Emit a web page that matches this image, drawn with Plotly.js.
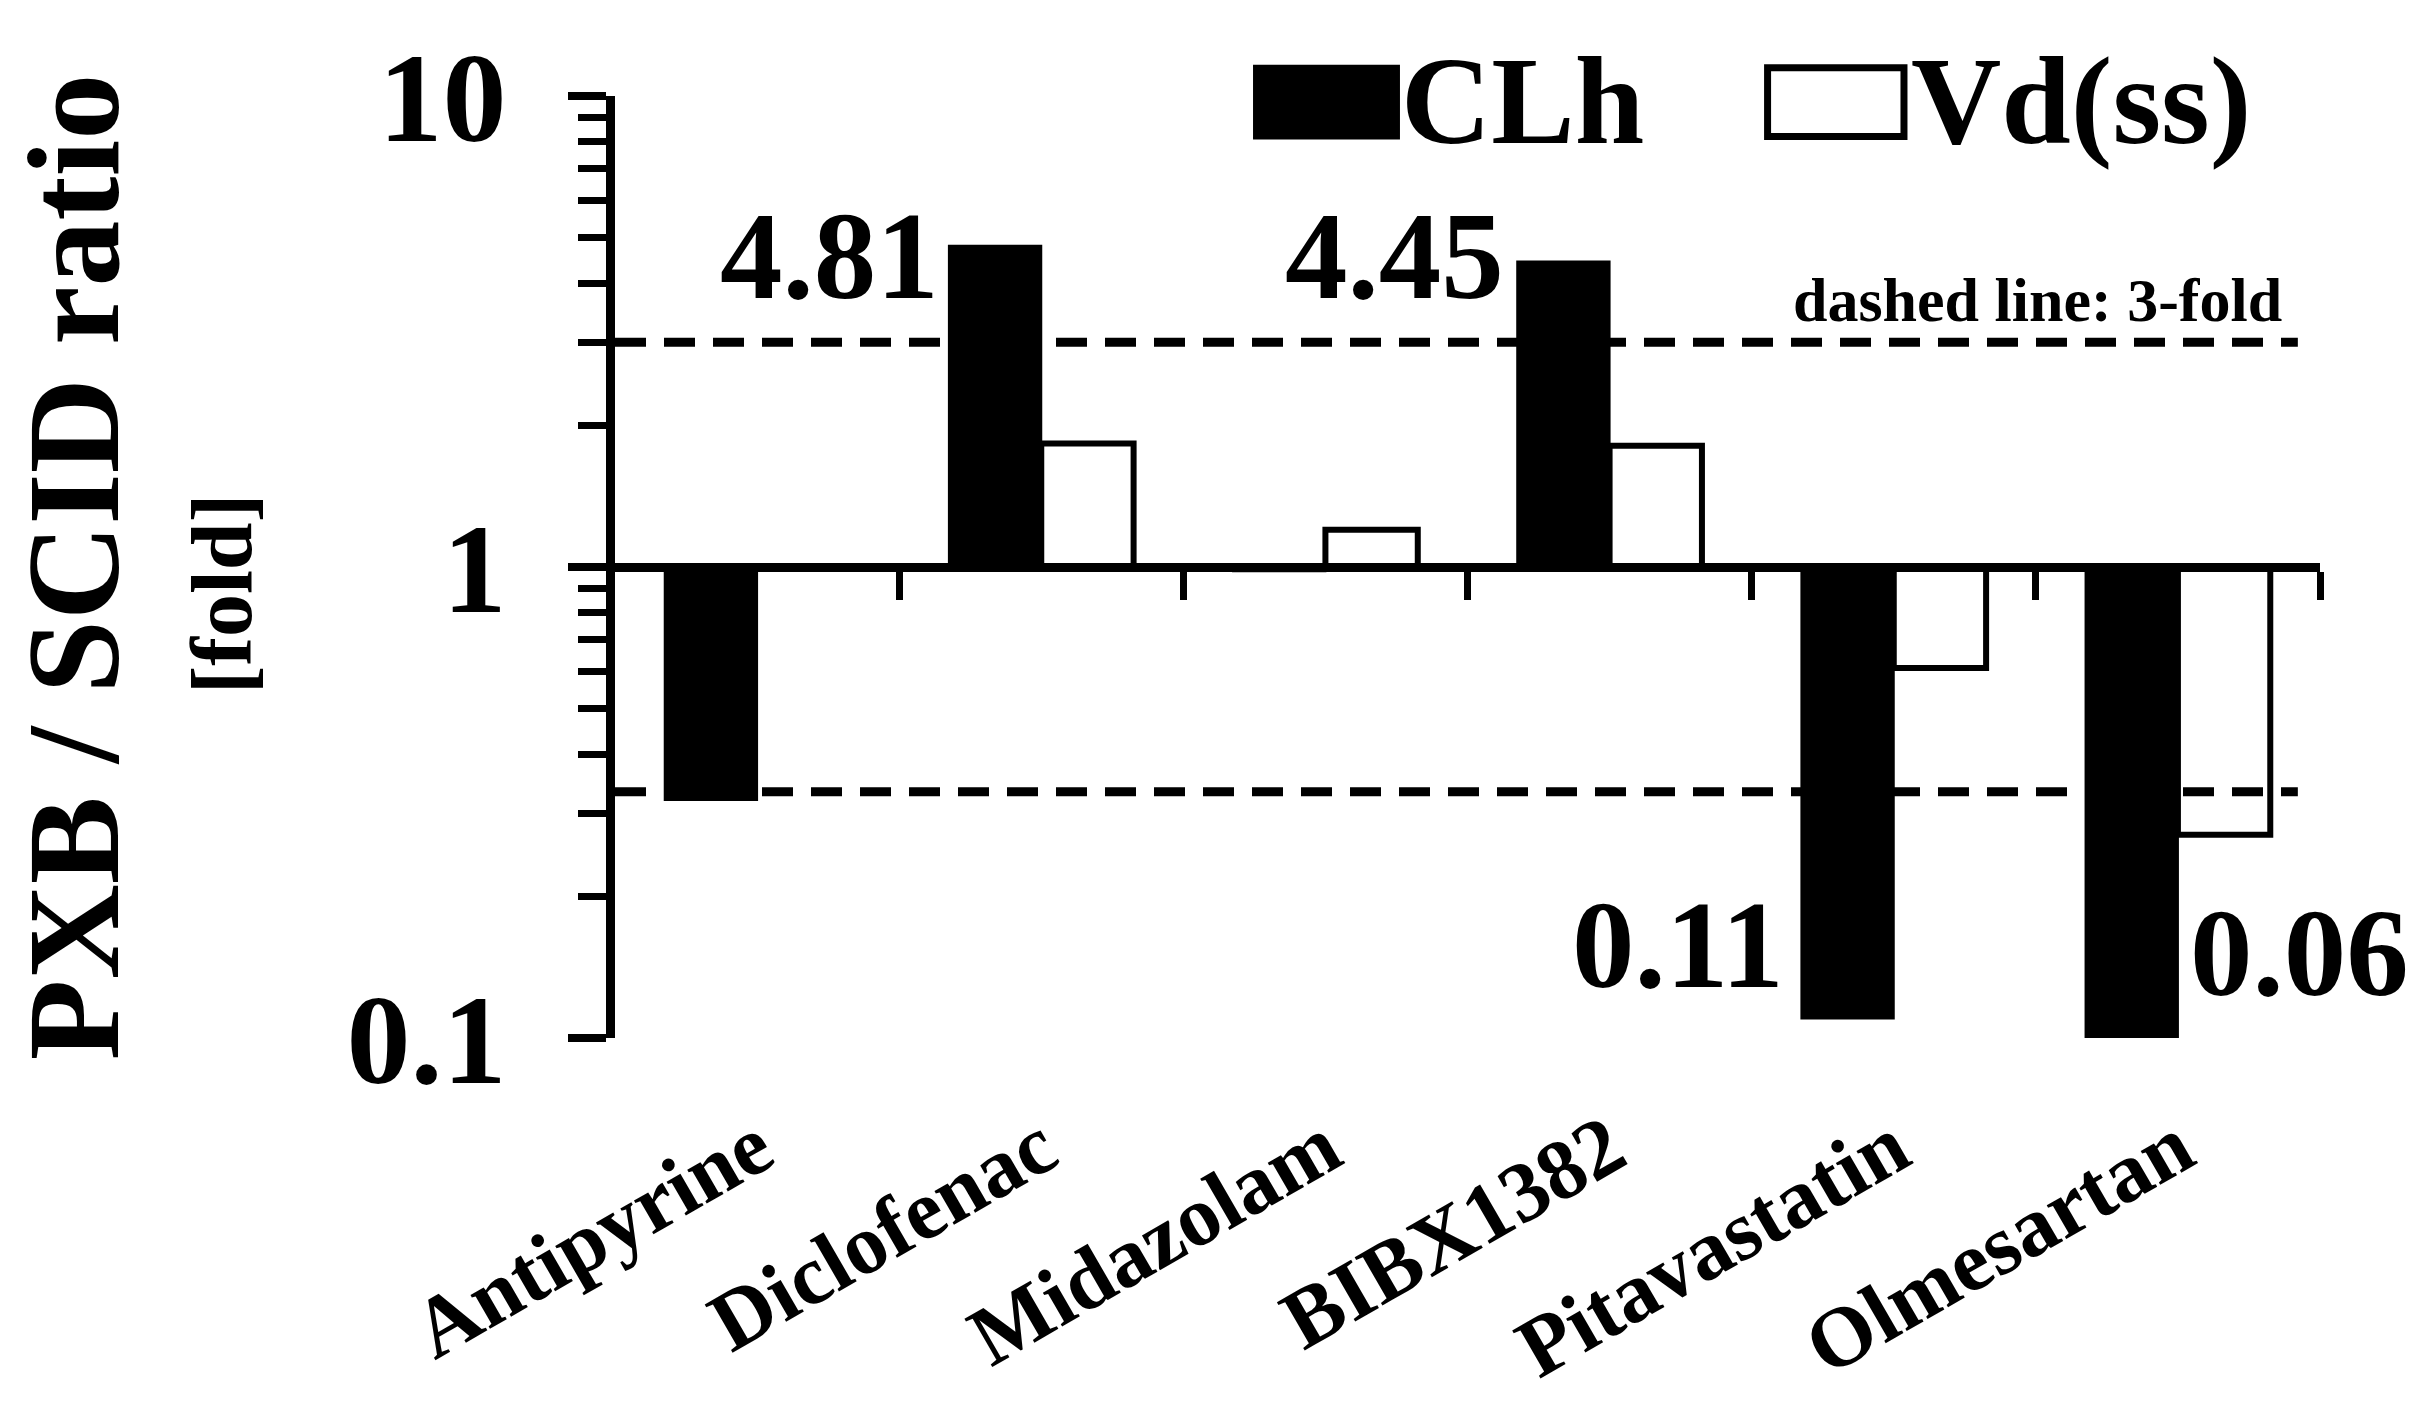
<!DOCTYPE html>
<html>
<head>
<meta charset="utf-8">
<script src="https://cdn.plot.ly/plotly-3.0.1.min.js"></script>
<style>
  html, body { margin: 0; padding: 0; background: #ffffff; }
  #chart { width: 2423px; height: 1408px; }
</style>
</head>
<body>
<div id="chart"></div>
<script>
// ---- data ----
const categories = ['Antipyrine', 'Diclofenac', 'Midazolam', 'BIBX1382', 'Pitavastatin', 'Olmesartan'];
const clhRatio  = [0.32, 4.81, 0.98, 4.45, 0.11, 0.06];   // CLh  PXB/SCID ratio
const vdssRatio = [1.00, 1.83, 1.20, 1.81, 0.61, 0.27];   // Vd(ss) PXB/SCID ratio
const seriesNames = ['CLh', 'Vd(ss)'];
const baselineRatio = 1;          // bars grow from ratio 1
const foldLimit = 3;              // dashed lines at 3-fold and 1/3-fold
const yTickVals = [0.1, 1, 10];
const yTickText = ['0.1', '1', '10'];
const labelledIdx = [1, 3, 4, 5]; // CLh bars with value labels

// ---- styling ----
const FONT = 'Liberation Serif, Times New Roman, serif';
const BOLD = (s) => '<b>' + s + '</b>';

const traces = [
  {
    type: 'bar', name: seriesNames[0], x: categories,
    y: clhRatio.map(v => v - baselineRatio), base: baselineRatio,
    marker: { color: '#000000', line: { color: '#000000', width: 2 } },
    showlegend: false, hoverinfo: 'skip'
  },
  {
    type: 'bar', name: seriesNames[1], x: categories,
    y: vdssRatio.map(v => v - baselineRatio), base: baselineRatio,
    marker: { color: '#ffffff', line: { color: '#000000', width: 6 } },
    showlegend: false, hoverinfo: 'skip'
  }
];

const minorVals = [];
[0.1, 1].forEach(d => { for (let k = 2; k <= 9; k++) minorVals.push(+(d * k).toFixed(3)); });

// value label placement (pixel shifts from category centre / paper heights)
const labelCfg = {
  1: { xanchor: 'right', xshift: -100, y: 0.830 },
  3: { xanchor: 'right', xshift: -104, y: 0.830 },
  4: { xanchor: 'right', xshift: -108, y: 0.099 },
  5: { xanchor: 'left',  xshift: 10,   y: 0.090 }
};

const annotations = labelledIdx.map(i => ({
  xref: 'x', yref: 'paper', x: categories[i], y: labelCfg[i].y,
  xanchor: labelCfg[i].xanchor, yanchor: 'middle', xshift: labelCfg[i].xshift,
  text: BOLD(clhRatio[i].toFixed(2)), showarrow: false,
  font: { family: FONT, size: 125, color: '#000' }
}));

// [fold] sub-title
annotations.push({
  xref: 'paper', yref: 'paper', x: -0.2305, y: 0.472, xanchor: 'center', yanchor: 'middle',
  text: BOLD('[fold]'), textangle: -90, showarrow: false,
  font: { family: FONT, size: 86, color: '#000' }
});
// dashed-line note
annotations.push({
  xref: 'paper', yref: 'paper', x: 0.979, y: 0.783, xanchor: 'right', yanchor: 'middle',
  text: BOLD('dashed line: 3-fold'), showarrow: false,
  font: { family: FONT, size: 62, color: '#000' }
});
// legend texts
annotations.push({
  xref: 'paper', yref: 'paper', x: 0.460, y: 0.995, xanchor: 'left', yanchor: 'middle',
  text: BOLD(seriesNames[0]), showarrow: false,
  font: { family: FONT, size: 125, color: '#000' }
});
annotations.push({
  xref: 'paper', yref: 'paper', x: 0.759, y: 0.995, xanchor: 'left', yanchor: 'middle',
  text: BOLD(seriesNames[1]), showarrow: false,
  font: { family: FONT, size: 125, color: '#000' }
});

const shapes = [
  { type: 'line', xref: 'paper', yref: 'y', x0: 0, x1: 0.987,
    y0: foldLimit, y1: foldLimit,
    line: { color: '#000', width: 9, dash: '31px,18px' }, layer: 'above' },
  { type: 'line', xref: 'paper', yref: 'y', x0: 0, x1: 0.987,
    y0: 1 / foldLimit, y1: 1 / foldLimit,
    line: { color: '#000', width: 9, dash: '31px,18px' }, layer: 'above' },
  // legend swatches
  { type: 'rect', xref: 'paper', yref: 'paper', x0: 0.3748, x1: 0.4598, y0: 0.955, y1: 1.032,
    fillcolor: '#000', line: { color: '#000', width: 2 } },
  { type: 'rect', xref: 'paper', yref: 'paper', x0: 0.6760, x1: 0.7560, y0: 0.957, y1: 1.030,
    fillcolor: '#fff', line: { color: '#000', width: 7 } }
];

const layout = {
  width: 2423, height: 1408,
  margin: { l: 615, r: 103, t: 96, b: 370, pad: 0 },
  paper_bgcolor: '#ffffff', plot_bgcolor: '#ffffff',
  font: { family: FONT, color: '#000' },
  barmode: 'group', bargap: 0.35, bargroupgap: 0,
  showlegend: false,
  xaxis: {
    type: 'category', range: [-0.5, categories.length - 0.5],
    showline: false, showgrid: false, zeroline: false, ticks: '',
    tickangle: -30, ticklabelstandoff: 44,
    tickfont: { family: FONT, size: 85, color: '#000', weight: 'bold' },
    fixedrange: true
  },
  xaxis2: {
    overlaying: 'x', anchor: 'free', position: 0.5, side: 'bottom',
    range: [-0.5, categories.length - 0.5],
    tickmode: 'array', tickvals: categories.map((_, i) => i + 0.5),
    showticklabels: false, ticks: 'outside', ticklen: 28, tickwidth: 7, tickcolor: '#000',
    showline: true, linewidth: 9, linecolor: '#000',
    showgrid: false, zeroline: false, fixedrange: true
  },
  yaxis: {
    type: 'log', range: [-1, 1],
    tickmode: 'array', tickvals: yTickVals, ticktext: yTickText,
    ticks: 'outside', ticklen: 38, tickwidth: 8, tickcolor: '#000',
    minor: { tickmode: 'array', tickvals: minorVals, ticks: 'outside', ticklen: 28, tickwidth: 7, tickcolor: '#000', showgrid: false },
    ticklabelstandoff: 36,
    tickfont: { family: FONT, size: 128, color: '#000', weight: 'bold' },
    showline: true, linewidth: 9, linecolor: '#000',
    showgrid: false, zeroline: false, fixedrange: true,
    title: { text: BOLD('PXB / SCID ratio'), standoff: 194,
             font: { family: FONT, size: 132, color: '#000' } }
  },
  annotations: annotations,
  shapes: shapes
};

// invisible trace so xaxis2 is rendered
traces.push({ type: 'scatter', x: [0], y: [1], xaxis: 'x2', yaxis: 'y',
  mode: 'markers', marker: { opacity: 0 }, showlegend: false, hoverinfo: 'skip' });

Plotly.newPlot('chart', traces, layout, { displayModeBar: false, staticPlot: true });
</script>
</body>
</html>
